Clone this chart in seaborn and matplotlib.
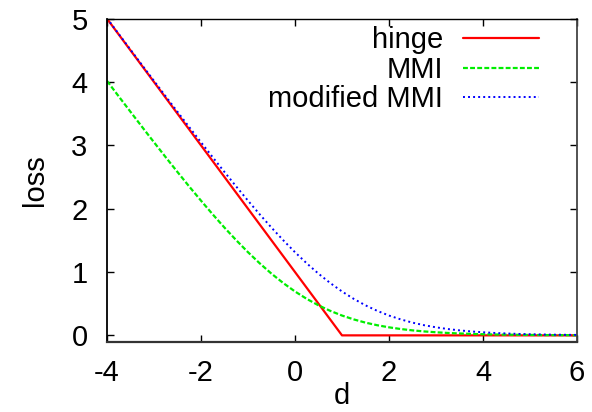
import matplotlib
matplotlib.use("Agg")
import matplotlib.pyplot as plt
import seaborn as sns
import pandas as pd

# ---- data ----
d_hinge = [-4.0, 1.0, 6.0]
hinge = [5.0, 0.0, 0.0]

d_vals = [-4.0, -3.75, -3.5, -3.25, -3.0, -2.75, -2.5, -2.25, -2.0, -1.75,
          -1.5, -1.25, -1.0, -0.75, -0.5, -0.25, 0.0, 0.25, 0.5, 0.75,
          1.0, 1.25, 1.5, 1.75, 2.0, 2.25, 2.5, 2.75, 3.0, 3.25,
          3.5, 3.75, 4.0, 4.25, 4.5, 4.75, 5.0, 5.25, 5.5, 5.75, 6.0]
mmi = [4.018, 3.773, 3.530, 3.288, 3.049, 2.812, 2.579, 2.350, 2.127, 1.910,
       1.701, 1.502, 1.313, 1.137, 0.974, 0.826, 0.693, 0.576, 0.474, 0.387,
       0.313, 0.252, 0.201, 0.160, 0.127, 0.100, 0.079, 0.062, 0.049, 0.038,
       0.030, 0.023, 0.018, 0.014, 0.011, 0.009, 0.007, 0.005, 0.004, 0.003, 0.002]
mod_mmi = [5.007, 4.759, 4.511, 4.264, 4.018, 3.773, 3.530, 3.288, 3.049, 2.812,
           2.579, 2.350, 2.127, 1.910, 1.701, 1.502, 1.313, 1.137, 0.974, 0.826,
           0.693, 0.576, 0.474, 0.387, 0.313, 0.252, 0.201, 0.160, 0.127, 0.100,
           0.079, 0.062, 0.049, 0.038, 0.030, 0.023, 0.018, 0.014, 0.011, 0.009, 0.007]

x_ticks = [-4, -2, 0, 2, 4, 6]
y_ticks = [0, 1, 2, 3, 4, 5]

sns.set_theme(style="white")
plt.rcParams['font.family'] = ['Liberation Sans', 'DejaVu Sans']
plt.rcParams['text.color'] = 'black'
plt.rcParams['axes.labelcolor'] = 'black'

FS = 21

fig = plt.figure(figsize=(5.92, 4.12), dpi=100)
ax = fig.add_axes([107/592, 1-341.7/412, 470/592, (341.7-18.7)/412])

df_h = pd.DataFrame({"d": d_hinge, "loss": hinge})
df_m = pd.DataFrame({"d": d_vals, "loss": mmi})
df_mm = pd.DataFrame({"d": d_vals, "loss": mod_mmi})

sns.lineplot(data=df_h, x="d", y="loss", ax=ax, color="#ff0000", lw=1.6,
             label="hinge", sort=False)
sns.lineplot(data=df_m, x="d", y="loss", ax=ax, color="#00ee00", lw=1.6,
             linestyle=(0, (2.2, 1.0)), label="MMI", sort=False)
sns.lineplot(data=df_mm, x="d", y="loss", ax=ax, color="#0000ff", lw=1.4,
             linestyle=(0, (1.0, 1.6)), label="modified MMI", sort=False)

ax.set_xlim(-4, 6)
ax.set_ylim(-0.1, 5)
ax.set_xticks(x_ticks)
ax.set_yticks(y_ticks)
ax.set_xticklabels([str(v) for v in x_ticks])
ax.set_yticklabels([str(v) for v in y_ticks])

ax.tick_params(axis="both", which="both", direction="in", length=5, width=1,
               colors="black", labelsize=FS, top=True, right=True,
               bottom=True, left=True)
ax.tick_params(axis="x", pad=12.5)
ax.tick_params(axis="y", pad=14)

for s in ax.spines.values():
    s.set_visible(True)
    s.set_color("black")
    s.set_linewidth(1.0)
ax.spines["left"].set_linewidth(1.3)
ax.spines["bottom"].set_linewidth(1.6)
ax.spines["bottom"].set_color("#333333")
ax.spines["right"].set_color("#444444")
ax.spines["right"].set_linewidth(1.3)

ax.set_xlabel("d", fontsize=FS, labelpad=-3.5)
ax.set_ylabel("loss", fontsize=FS, labelpad=16)

leg = ax.legend(loc="upper right", bbox_to_anchor=((543 - 107) / 470, 0.99),
                frameon=False, markerfirst=False, fontsize=FS,
                handlelength=2.6, handletextpad=0.68, labelspacing=0.05,
                borderpad=0.15, borderaxespad=0.0)
for t in leg.get_texts():
    t.set_color("black")

ax.set_facecolor("white")
fig.patch.set_facecolor("white")
fig.savefig("out.png", dpi=100)
